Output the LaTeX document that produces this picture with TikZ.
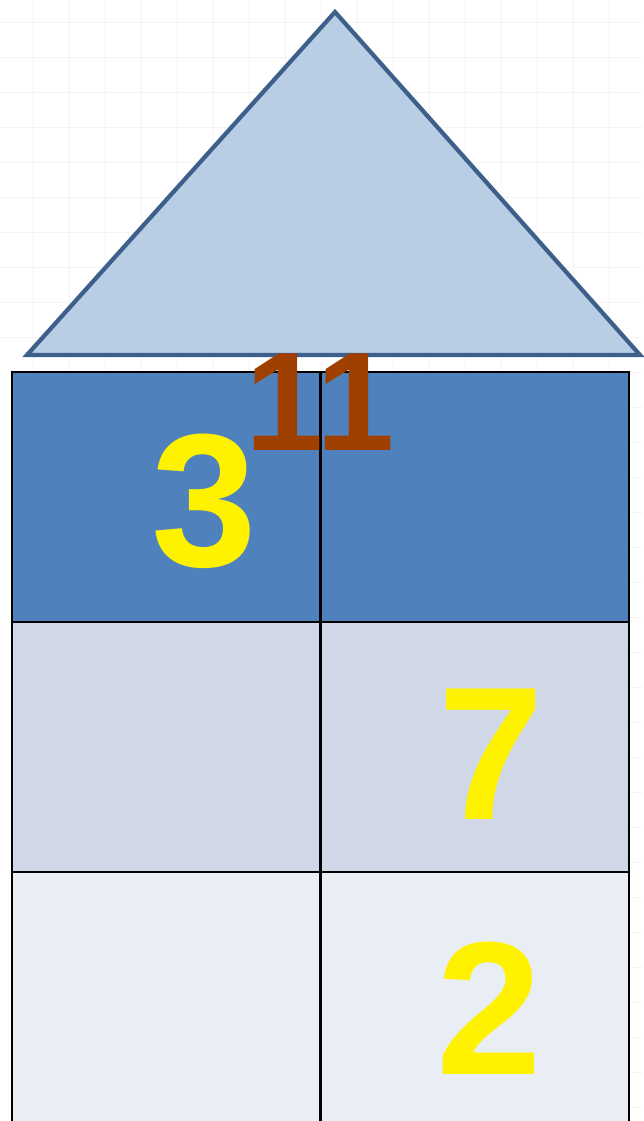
\documentclass[tikz,border=0pt]{standalone}
\usepackage{fontspec}
\setmainfont{Liberation Sans}
\usepackage{tikz}
\usetikzlibrary{positioning}
\definecolor{roofLine}{HTML}{3C5F8C}
\definecolor{roofFill}{HTML}{B9CDE5}
\definecolor{rowDark}{HTML}{4F81BD}
\definecolor{rowMid}{HTML}{D0D8E8}
\definecolor{rowLight}{HTML}{E9EDF4}
\definecolor{sumBrown}{HTML}{A04000}
\definecolor{gridGrey}{HTML}{F4F4F4}

\begin{document}
\begin{tikzpicture}[x=0.02cm, y=-0.02cm,
  cell/.style={draw=black, line width=1.2pt, minimum width=6.16cm, minimum height=5cm, inner sep=0pt, anchor=north west},
  num/.style={font=\fontsize{108}{108}\selectfont\bfseries, text=yellow, inner sep=0pt, anchor=base},
  total/.style={font=\fontsize{80}{80}\selectfont\bfseries, text=sumBrown, inner sep=0pt, anchor=base}]
  \useasboundingbox (0,0) rectangle (643,1121);
  % faint paper grid
  \foreach \gx in {33,69,105,141,177,213,249,285,321,357,393,429,465,501,537,573,609}
    \draw[gridGrey, line width=0.5pt] (\gx,0) -- (\gx,1121);
  \foreach \gy in {22,57,92,127,162,197,232,267,302,337}
    \draw[gridGrey, line width=0.5pt] (0,\gy) -- (643,\gy);
  \foreach \gy in {372,407,442,477,512,547,582,617,652,687,722,757,792,827,862,897,932,967,1002,1037,1072,1107}
    \draw[gridGrey, line width=0.5pt] (627,\gy) -- (643,\gy);

  % roof
  \coordinate (apex) at (335,12);
  \coordinate (eaveL) at (27,355);
  \coordinate (eaveR) at (640,355);
  \draw[roofLine, fill=roofFill, line width=2.4pt, line join=miter] (apex) -- (eaveL) -- (eaveR) -- cycle;

  % floors
  \node[cell, fill=rowDark] (c11) at (11,371) {};
  \node[cell, fill=rowDark] (c12) at (320,371) {};
  \node[cell, fill=rowMid] (c21) at (11,621) {};
  \node[cell, fill=rowMid] (c22) at (320,621) {};
  \node[cell, fill=rowLight] (c31) at (11,871) {};
  \node[cell, fill=rowLight] (c32) at (320,871) {};

  % numbers
  \node[total] (sum) at (320,450) {11};
  \node[num] (n3) at (204,566) {3};
  \node[num] (n7) at (491,819) {7};
  \node[num] (n2) at (489,1074) {2};
\end{tikzpicture}
\end{document}
